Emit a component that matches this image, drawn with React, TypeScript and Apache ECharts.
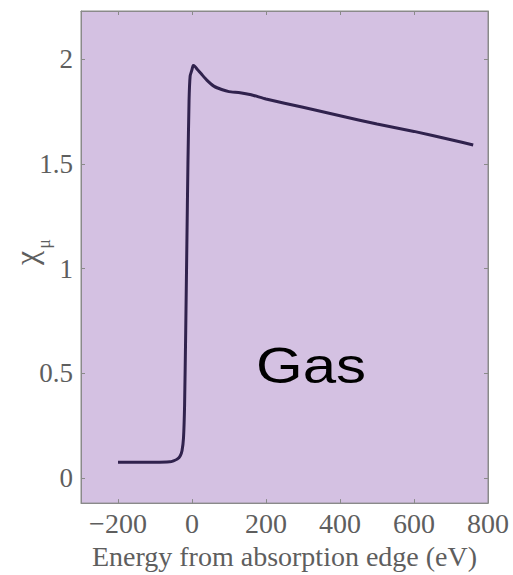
import React, { useEffect, useRef } from "react";
import * as echarts from "echarts";

const energy = [-200, -100, -60, -50, -40, -32, -27, -23, -20, -17, -14, -11, -8, -5, 0, 3, 8, 15, 25, 40, 60, 80, 100, 130, 160, 200, 300, 400, 500, 600, 700, 760];
const chi = [0.075, 0.075, 0.077, 0.082, 0.09, 0.105, 0.13, 0.19, 0.35, 0.7, 1.1, 1.5, 1.8, 1.92, 1.95, 1.97, 1.965, 1.95, 1.93, 1.9, 1.87, 1.855, 1.845, 1.84, 1.83, 1.81, 1.77, 1.73, 1.69, 1.655, 1.615, 1.59];
const xTickValues = [-200, 0, 200, 400, 600, 800];
const yTickValues = [0, 0.5, 1, 1.5, 2];
const xTitle = "Energy from absorption edge (eV)";
const annotation = "Gas";

const SERIF = "'Liberation Serif', 'Times New Roman', serif";
const LABEL_COLOR = "#5e5e5e";
const AXIS_COLOR = "#8a8a8a";

export default function App() {
  const ref = useRef<HTMLDivElement>(null);
  useEffect(() => {
    if (!ref.current) return;
    const chart = echarts.init(ref.current, undefined, { renderer: "svg" });
    const data = energy.map((e, i) => [e, chi[i]]);
    const fmtX = (v: number) => {
      if (!xTickValues.includes(v)) return "";
      return v < 0 ? "\u2212" + Math.abs(v) : String(v);
    };
    const fmtY = (v: number) => {
      const r = Math.round(v * 100) / 100;
      return yTickValues.includes(r) ? String(r) : "";
    };
    const tick = { show: true, inside: true, length: 4, lineStyle: { color: AXIS_COLOR, width: 1 } };
    const line = { show: true, onZero: false, lineStyle: { color: AXIS_COLOR, width: 1 } };
    chart.setOption({
      animation: false,
      grid: {
        left: 81,
        right: 25,
        top: 11,
        bottom: 70,
        show: true,
        backgroundColor: "#d4c1e2",
        borderColor: AXIS_COLOR,
        borderWidth: 1,
      },
      xAxis: [
        {
          type: "value",
          min: -300,
          max: 800,
          position: "bottom",
          axisLine: line,
          axisTick: tick,
          splitLine: { show: false },
          axisLabel: { formatter: fmtX, fontFamily: SERIF, fontSize: 28, color: LABEL_COLOR, margin: 6 },
          name: xTitle,
          nameLocation: "middle",
          nameGap: 36,
          nameTextStyle: { fontFamily: SERIF, fontSize: 28, color: LABEL_COLOR },
        },
        {
          type: "value",
          min: -300,
          max: 800,
          position: "top",
          axisLine: line,
          axisTick: tick,
          splitLine: { show: false },
          axisLabel: { show: false },
        },
      ],
      yAxis: [
        {
          type: "value",
          min: -0.12,
          max: 2.23,
          position: "left",
          axisLine: line,
          axisTick: tick,
          splitLine: { show: false },
          axisLabel: { formatter: fmtY, fontFamily: SERIF, fontSize: 27, color: LABEL_COLOR, margin: 8 },
        },
        {
          type: "value",
          min: -0.12,
          max: 2.23,
          position: "right",
          axisLine: line,
          axisTick: tick,
          splitLine: { show: false },
          axisLabel: { show: false },
        },
      ],
      series: [
        {
          type: "line",
          data,
          showSymbol: false,
          smooth: 0.15,
          lineStyle: { color: "#30224d", width: 3 },
        },
      ],
      graphic: [
        {
          type: "text",
          x: 26,
          y: 258,
          rotation: Math.PI / 2,
          style: { text: "\u03c7", fontFamily: SERIF, fontSize: 32, fill: LABEL_COLOR, textAlign: "center", textVerticalAlign: "middle" },
        },
        {
          type: "text",
          x: 44,
          y: 244,
          rotation: Math.PI / 2,
          style: { text: "\u03bc", fontFamily: SERIF, fontSize: 18, fill: LABEL_COLOR, textAlign: "center", textVerticalAlign: "middle" },
        },
        {
          type: "text",
          x: 311,
          y: 366,
          scaleX: 1.2,
          style: { text: annotation, fontFamily: "'Liberation Sans', Arial, sans-serif", fontSize: 50, fill: "#000", textAlign: "center", textVerticalAlign: "middle" },
        },
      ],
    });
    return () => chart.dispose();
  }, []);
  return <div ref={ref} style={{ position: "absolute", left: 0, top: 0, width: 513, height: 575 }} />;
}
